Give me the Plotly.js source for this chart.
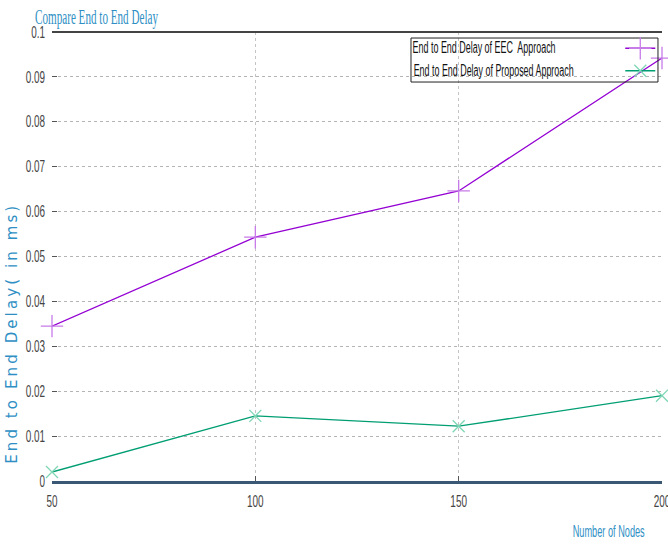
<!DOCTYPE html>
<html>
<head>
<meta charset="utf-8">
<script src="https://cdn.plot.ly/plotly-3.0.1.min.js"></script>
<style>html,body{margin:0;padding:0;background:#fff;}#chart{width:668px;height:544px;}</style>
</head>
<body>
<div id="chart"></div>
<script>
var nodes = [50, 100, 150, 200];
var eecDelay = [0.0345, 0.0543, 0.0646, 0.0942];
var proposedDelay = [0.0020, 0.0145, 0.0122, 0.0190];
var seriesNames = ["End to End Delay of EEC  Approach", "End to End Delay of Proposed Approach"];
var xTicks = [50, 100, 150, 200];
var yTicks = [0, 0.01, 0.02, 0.03, 0.04, 0.05, 0.06, 0.07, 0.08, 0.09, 0.1];
var yTickText = ["0", "0.01", "0.02", "0.03", "0.04", "0.05", "0.06", "0.07", "0.08", "0.09", "0.1"];

var sans = "'Liberation Sans', Arial, sans-serif";
var blue = "#2f8fc4";

var traces = [
  {x: nodes, y: eecDelay, name: " ", type: "scatter", mode: "lines+markers",
   line: {color: "#9400d3", width: 1.3},
   marker: {symbol: "cross-thin-open", size: 16, color: "#c77be8", line: {color: "#c77be8", width: 1.3}},
   cliponaxis: false},
  {x: nodes, y: proposedDelay, name: " ", type: "scatter", mode: "lines+markers",
   line: {color: "#009e73", width: 1.3},
   marker: {symbol: "x-thin-open", size: 12, color: "#7fd6b5", line: {color: "#7fd6b5", width: 1.3}},
   cliponaxis: false}
];

var layout = {
  width: 668, height: 544,
  margin: {l: 52, r: 6, t: 32, b: 63, autoexpand: false},
  paper_bgcolor: "#fff", plot_bgcolor: "#fff",
  showlegend: true,
  legend: {x: 0.9316, y: 1.0, xanchor: "left", yanchor: "top", bgcolor: "rgba(0,0,0,0)",
           borderwidth: 0, font: {size: 15, family: sans}, tracegroupgap: 0},
  xaxis: {range: [50, 200], tickvals: xTicks, ticktext: xTicks.map(String),
          showgrid: true, gridcolor: "#c4c4c4", griddash: "3px,3px", gridwidth: 1,
          showline: true, linecolor: "#3a5873", linewidth: 3,
          ticks: "inside", ticklen: 5, tickcolor: "#555", ticklabelstandoff: 4,
          ticklabeloverflow: "allow",
          tickfont: {family: sans, size: 16, color: "#444"},
          zeroline: false, fixedrange: true, automargin: false},
  yaxis: {range: [0, 0.1], tickvals: yTicks, ticktext: yTickText,
          showgrid: true, gridcolor: "#b4b4b4", griddash: "dot", gridwidth: 1,
          showline: false, ticks: "inside", ticklen: 5, tickcolor: "#555", ticklabelstandoff: 6,
          ticklabeloverflow: "allow",
          tickfont: {family: sans, size: 16, color: "#444"},
          zeroline: false, fixedrange: true, automargin: false},
  shapes: [
    {type: "line", xref: "paper", yref: "paper", x0: 0, x1: 1, y0: 1, y1: 1,
     line: {color: "#444", width: 2}},
    {type: "rect", xref: "paper", yref: "paper", x0: 0.5885, x1: 0.9934, y0: 0.8886, y1: 0.9866,
     line: {color: "#222", width: 1}, fillcolor: "rgba(255,255,255,0)"}
  ],
  annotations: [
    {text: "Compare End to End Delay", xref: "paper", yref: "paper", x: 0.073, y: 1.0334,
     xanchor: "center", yanchor: "middle", showarrow: false,
     font: {family: "'Liberation Serif', 'DejaVu Serif', serif", size: 20, color: blue}},
    {text: seriesNames[0], xref: "paper", yref: "paper", x: 0.709, y: 0.966,
     xanchor: "center", yanchor: "middle", showarrow: false,
     font: {family: sans, size: 16, color: "#111"}},
    {text: seriesNames[1], xref: "paper", yref: "paper", x: 0.723, y: 0.915,
     xanchor: "center", yanchor: "middle", showarrow: false,
     font: {family: sans, size: 16, color: "#111"}},
    {text: "End to End Delay( in ms)", xref: "paper", yref: "paper", x: -0.0656, y: 0.327,
     xanchor: "center", yanchor: "middle", textangle: -90, showarrow: false,
     font: {family: "'DejaVu Sans', sans-serif", size: 15, color: blue}},
    {text: "Number of Nodes", xref: "paper", yref: "paper", x: 0.9115, y: -0.113,
     xanchor: "center", yanchor: "middle", showarrow: false,
     font: {family: sans, size: 16, color: blue}}
  ]
};

// target widths (px) of texts drawn in a condensed face in the original
var textWidths = {
  "Compare End to End Delay": [123, "spacingAndGlyphs"],
  "End to End Delay of EEC  Approach": [143, "spacingAndGlyphs"],
  "End to End Delay of Proposed Approach": [160, "spacingAndGlyphs"],
  "End to End Delay( in ms)": [258, "spacing"],
  "Number of Nodes": [72, "spacingAndGlyphs"]
};

Plotly.newPlot("chart", traces, layout, {displayModeBar: false, staticPlot: true}).then(function () {
  var gd = document.getElementById("chart");
  gd.querySelectorAll(".xtick text, .ytick text").forEach(function (t) {
    var w = t.getComputedTextLength();
    t.setAttribute("textLength", (w * 0.62).toFixed(1));
    t.setAttribute("lengthAdjust", "spacingAndGlyphs");
  });
  gd.querySelectorAll(".annotation-text").forEach(function (t) {
    var key = t.textContent;
    if (textWidths[key]) {
      t.setAttribute("textLength", textWidths[key][0]);
      t.setAttribute("lengthAdjust", textWidths[key][1]);
    }
  });
});
</script>
</body>
</html>
